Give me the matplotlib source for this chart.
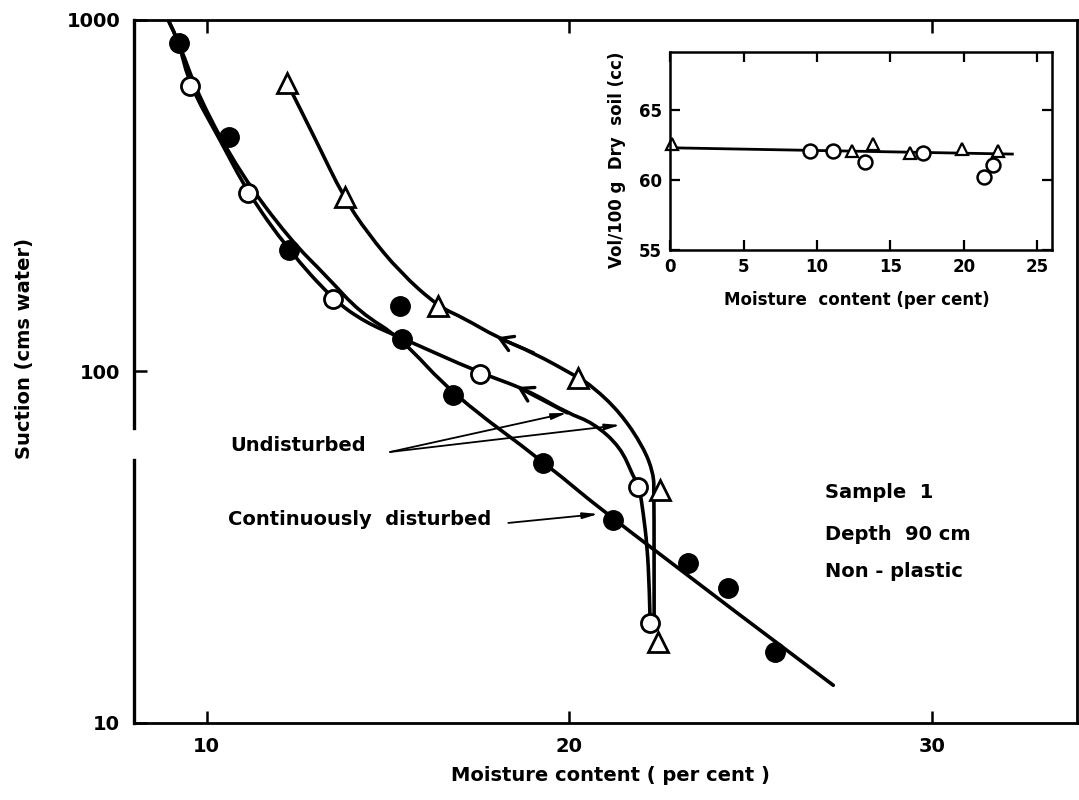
import matplotlib
matplotlib.use('Agg')
import matplotlib.pyplot as plt
from matplotlib.path import Path
from matplotlib.patches import PathPatch
from matplotlib.ticker import FixedLocator, NullLocator, FixedFormatter

plt.rcParams['font.family'] = ['DejaVu Sans']
plt.rcParams['font.weight'] = 'bold'

# measured points, main chart (moisture %, suction cm water)
dist_x = [9.24, 10.62, 12.28, 15.34, 15.39, 16.8, 19.28, 21.21, 23.28, 24.39, 25.68]
dist_y = [860, 464, 222, 153, 124, 85.7, 54.9, 37.8, 28.5, 24.2, 15.9]
undist_circ_x = [9.55, 11.15, 13.49, 17.54, 21.9, 22.23]
undist_circ_y = [649, 322, 161, 98, 46.9, 19.25]
undist_tri_x = [12.22, 13.82, 16.39, 20.25, 22.5, 22.46]
undist_tri_y = [662, 314, 153, 95.8, 46, 17.0]

# hand drawn curves
curve_dist_x = [8.94, 9.24, 9.82, 10.92, 12.30, 13.32, 14.23, 15.34, 16.80, 19.34, 21.21, 27.28]
curve_dist_y = [1000, 860, 592, 367, 237, 186, 147, 125, 85.7, 54.9, 37.8, 12.8]
curve_circ_x = [8.94, 9.24, 9.54, 10.37, 11.14, 12.25, 13.49, 14.37, 15.34, 17.54, 18.84,
                19.94, 20.66, 21.41, 21.77, 21.93, 22.04, 22.15, 22.21, 22.23]
curve_circ_y = [1000, 860, 649, 456, 322, 222, 160, 138, 125, 99, 88.6,
                76.2, 71.4, 61.0, 50.1, 46.9, 39.6, 31.7, 23.9, 19.3]
curve_tri_x = [12.22, 13.05, 13.77, 14.43, 15.34, 16.39, 17.08, 18.01, 19.01, 20.22,
               20.66, 21.41, 22.04, 22.32, 22.34, 22.34]
curve_tri_y = [662, 447, 314, 248, 191, 153, 142, 125, 113, 96.5,
               90.3, 76.2, 61.0, 51.4, 45.1, 19.6]

# inset: volume per 100 g dry soil
inset_circ_x = [9.5, 11.1, 13.3, 17.2, 21.4, 22.0]
inset_circ_y = [62.1, 62.1, 61.3, 61.9, 60.2, 61.1]
inset_tri_x = [0.1, 12.4, 13.8, 16.3, 19.9, 22.3]
inset_tri_y = [62.6, 62.1, 62.6, 61.9, 62.2, 62.1]
inset_fit_x = [0, 23.3]
inset_fit_y = [62.3, 61.85]


def smooth_curve(ax, xs, ys, lw=2.6):
    # quadratic bezier through midpoints, so the hand drawn look is kept
    pts = list(zip(xs, ys))
    verts = [pts[0]]
    codes = [Path.MOVETO]
    for i in range(1, len(pts) - 1):
        mid = ((pts[i][0] + pts[i + 1][0]) / 2, (pts[i][1] * pts[i + 1][1]) ** 0.5)
        if i == 1:
            verts.append(((pts[0][0] + pts[1][0]) / 2, (pts[0][1] * pts[1][1]) ** 0.5))
            codes.append(Path.LINETO)
        verts += [pts[i], mid if i < len(pts) - 2 else pts[-1]]
        codes += [Path.CURVE3, Path.CURVE3]
    patch = PathPatch(Path(verts, codes), fill=False, lw=lw, edgecolor='black',
                      joinstyle='round', capstyle='round', zorder=2)
    ax.add_patch(patch)


fig = plt.figure(figsize=(10.79, 8.0), dpi=100)
ax = fig.add_axes([0.1242, 0.09625, 0.874, 0.879])
ax.set_yscale('log')
ax.set_xlim(8, 34)
ax.set_ylim(10, 1000)

smooth_curve(ax, curve_dist_x, curve_dist_y)
smooth_curve(ax, curve_circ_x, curve_circ_y)
smooth_curve(ax, curve_tri_x, curve_tri_y)

ax.plot(dist_x, dist_y, 'o', ms=14, color='black', zorder=3)
ax.plot(undist_circ_x, undist_circ_y, 'o', ms=13, mfc='white', mec='black', mew=2, zorder=3)
ax.plot(undist_tri_x, undist_tri_y, '^', ms=15, mfc='white', mec='black', mew=2, zorder=3)

# direction chevrons on the undisturbed curves
chev = dict(arrowstyle='->,head_length=0.9,head_width=0.55', lw=2.4, color='black', shrinkA=0, shrinkB=0)
ax.annotate('', xy=(18.01, 125), xytext=(19.01, 113), arrowprops=chev)
ax.annotate('', xy=(18.57, 90.3), xytext=(19.94, 76.2), arrowprops=chev)

# leader arrows
lead = dict(arrowstyle='-|>,head_length=0.9,head_width=0.18', lw=1.3, color='black', shrinkA=0, shrinkB=0)
ax.annotate('', xy=(19.94, 76.2), xytext=(15.06, 59.0), arrowprops=lead)
ax.annotate('', xy=(21.41, 70.4), xytext=(15.06, 59.0), arrowprops=lead)
ax.annotate('', xy=(20.8, 39.3), xytext=(18.32, 37.07), arrowprops=lead)

txt = dict(fontsize=14, fontweight='bold', va='center', ha='left')
ax.text(10.65, 61.4, 'Undisturbed', **txt)
ax.text(10.6, 37.8, 'Continuously  disturbed', **txt)
ax.text(27.06, 45.1, 'Sample  1', **txt)
ax.text(27.06, 34.3, 'Depth  90 cm', **txt)
ax.text(27.06, 26.9, 'Non - plastic', **txt)

ax.yaxis.set_major_locator(FixedLocator([10, 100, 1000]))
ax.yaxis.set_major_formatter(FixedFormatter(['10', '100', '1000']))
ax.yaxis.set_minor_locator(NullLocator())
ax.set_xticks([10, 20, 30])
ax.tick_params(direction='in', length=9, width=1.8, top=True, right=False,
               labelsize=14, pad=10)
for lab in ax.get_xticklabels() + ax.get_yticklabels():
    lab.set_fontweight('bold')

for s in ['top', 'right', 'bottom']:
    ax.spines[s].set_linewidth(2.0)
ax.spines['left'].set_visible(False)
# broken left axis
ax.plot([0, 0], [0, 0.374], transform=ax.transAxes, color='black', lw=2.4, clip_on=False)
ax.plot([0, 0], [0.42, 1], transform=ax.transAxes, color='black', lw=2.4, clip_on=False)

fig.text(0.566, 0.031, 'Moisture content ( per cent )', ha='center', va='center',
         fontsize=14, fontweight='bold')
fig.text(0.023, 0.565, 'Suction (cms water)', ha='center', va='center', rotation=90,
         fontsize=14, fontweight='bold')

# inset
ins = fig.add_axes([0.621, 0.6875, 0.354, 0.2475])
ins.plot(inset_fit_x, inset_fit_y, color='black', lw=2.0)
ins.plot(inset_circ_x, inset_circ_y, 'o', ms=10, mfc='white', mec='black', mew=1.8)
ins.plot(inset_tri_x, inset_tri_y, '^', ms=9, mfc='white', mec='black', mew=1.6, clip_on=False)
ins.set_xlim(0, 26)
ins.set_ylim(55, 69.14)
ins.set_xticks([0, 5, 10, 15, 20, 25])
ins.set_yticks([55, 60, 65])
ins.tick_params(direction='in', length=7, width=1.6, top=True, right=True,
                labelsize=12, pad=6)
for lab in ins.get_xticklabels() + ins.get_yticklabels():
    lab.set_fontweight('bold')
for s in ins.spines.values():
    s.set_linewidth(1.8)

fig.text(0.794, 0.625, 'Moisture  content (per cent)', ha='center', va='center',
         fontsize=12, fontweight='bold')
fig.text(0.572, 0.80, 'Vol/100 g  Dry  soil (cc)', ha='center', va='center', rotation=90,
         fontsize=12, fontweight='bold')

fig.savefig('out.png', dpi=100)
